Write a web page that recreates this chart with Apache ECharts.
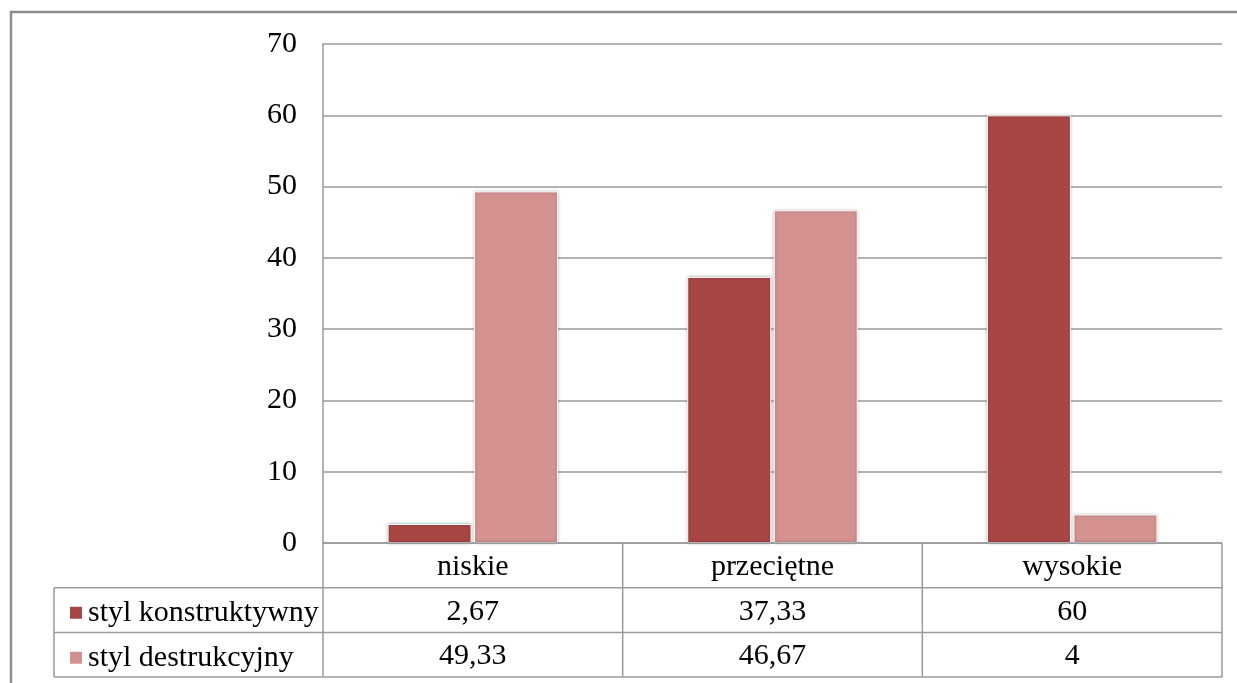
<!DOCTYPE html>
<html>
<head>
<meta charset="utf-8">
<script src="https://cdn.jsdelivr.net/npm/echarts@6/dist/echarts.min.js"></script>
<style>
html,body{margin:0;padding:0;background:#fff;}
#c{width:1237px;height:683px;}
</style>
</head>
<body>
<div id="c"></div>
<script>
var categories = ['niskie', 'przeciętne', 'wysokie'];
var seriesNames = ['styl konstruktywny', 'styl destrukcyjny'];
var konstruktywny = [2.67, 37.33, 60];
var destrukcyjny = [49.33, 46.67, 4];
var colors = ['#A84644', '#D39290'];

var FONT = 'Liberation Serif';
var FS = 30;
function fmt(v){ return String(v).replace('.', ','); }

var G = {left:323, right:1222, top:44, bottom:543};
var rowH = 44.7;
var tableLeft = 54;
var lineCol = '#9a9a9a';

var chart = echarts.init(document.getElementById('c'), null, {renderer:'canvas'});

function xAx(offset, formatter){
  return {
    type:'category', data:categories, position:'bottom', offset:offset,
    axisLine:{show:false}, axisTick:{show:false}, splitLine:{show:false},
    axisLabel:{show:true, margin:24, verticalAlign:'middle', color:'#000', fontFamily:FONT, fontSize:FS, formatter:formatter}
  };
}

var graphics = [];
// outer frame
graphics.push({type:'rect', shape:{x:11, y:12, width:1300, height:700}, style:{fill:'none', stroke:'#8c8c8c', lineWidth:2.5}, silent:true, z:100});
// table horizontal lines
var yRows = [G.bottom + rowH, G.bottom + 2*rowH, G.bottom + 3*rowH];
yRows.forEach(function(y){
  graphics.push({type:'line', shape:{x1:tableLeft, y1:y, x2:G.right, y2:y}, style:{stroke:lineCol, lineWidth:1.5}, silent:true, z:100});
});
// left column vertical
graphics.push({type:'line', shape:{x1:tableLeft, y1:yRows[0], x2:tableLeft, y2:yRows[2]}, style:{stroke:lineCol, lineWidth:1.5}, silent:true, z:100});
// category boundaries
var bw = (G.right - G.left)/categories.length;
for (var i=0;i<=categories.length;i++){
  var x = G.left + i*bw;
  graphics.push({type:'line', shape:{x1:x, y1:G.bottom, x2:x, y2:yRows[2]}, style:{stroke:lineCol, lineWidth:1.5}, silent:true, z:100});
}
// x axis line
graphics.push({type:'line', shape:{x1:G.left, y1:G.bottom, x2:G.right, y2:G.bottom}, style:{stroke:lineCol, lineWidth:1.5}, silent:true, z:100});

var barStyle = function(c){ return {color:c, borderColor:'#fff', borderWidth:1, shadowBlur:3, shadowColor:'rgba(0,0,0,0.3)'}; };

chart.setOption({
  animation:false,
  backgroundColor:'#fff',
  grid:{left:G.left, top:G.top, width:G.right-G.left, height:G.bottom-G.top},
  legend:{
    show:true, orient:'vertical', left:63, top:G.bottom+rowH+4, itemGap:13,
    itemWidth:14, itemHeight:14, icon:'rect',
    textStyle:{fontFamily:FONT, fontSize:FS, color:'#000', lineHeight:32},
    data:seriesNames
  },
  xAxis:[
    xAx(0, function(v){return v;}),
    xAx(rowH, function(v, i){return fmt(konstruktywny[i]);}),
    xAx(2*rowH, function(v, i){return fmt(destrukcyjny[i]);})
  ],
  yAxis:{
    type:'value', min:0, max:70, interval:10,
    axisLine:{show:true, lineStyle:{color:lineCol, width:1.5}},
    axisTick:{show:false},
    splitLine:{show:true, lineStyle:{color:lineCol, width:1.5}},
    axisLabel:{color:'#000', fontFamily:FONT, fontSize:FS, margin:26, padding:[0,0,4,0]}
  },
  series:[
    {name:seriesNames[0], type:'bar', xAxisIndex:0, data:konstruktywny, barWidth:84, barGap:'3%', itemStyle:barStyle(colors[0])},
    {name:seriesNames[1], type:'bar', xAxisIndex:0, data:destrukcyjny, barWidth:84, barGap:'3%', itemStyle:barStyle(colors[1])}
  ],
  graphic:graphics
});
</script>
</body>
</html>
